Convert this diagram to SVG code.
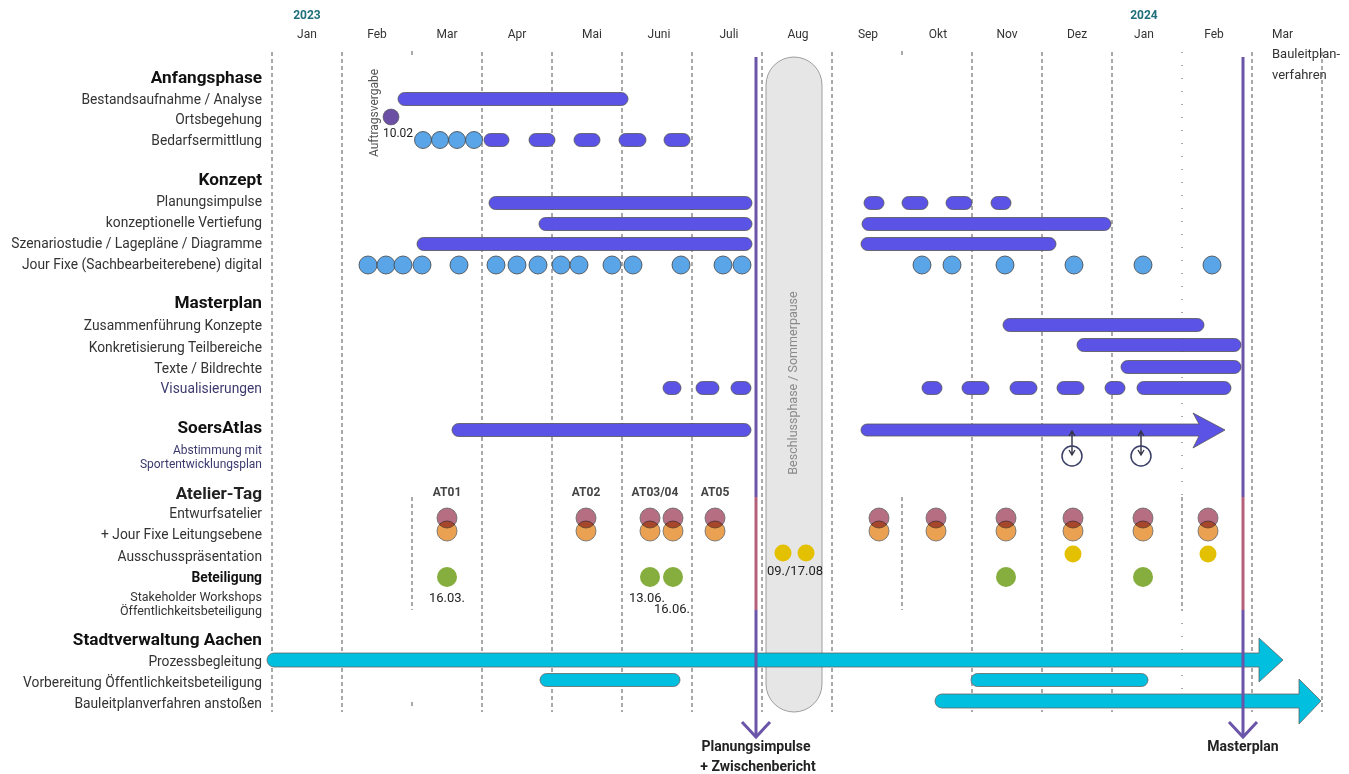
<svg xmlns="http://www.w3.org/2000/svg" width="1349" height="774" viewBox="0 0 1349 774">
<defs>
<style>
text{font-family:Roboto,"Liberation Sans",sans-serif;fill:#333}
.lab{font-size:13.8px;text-anchor:end}
.hd{font-size:17.2px;font-weight:bold;text-anchor:end;fill:#111}
.mon{font-size:12px;text-anchor:middle;fill:#333}
.yr{font-size:12px;font-weight:bold;text-anchor:middle;fill:#1f6f7a}
.grid{stroke:#555;stroke-width:1;stroke-dasharray:4 3;fill:none}
.bar{fill:#5b53e6;stroke:#555;stroke-width:0.8}
.jf{fill:#5aa5e8;stroke:#444;stroke-width:0.8}
.cy{fill:#00bfdf;stroke:#666;stroke-width:0.8}
.mr{fill:#b56e82;stroke:#666;stroke-width:0.8}
.or{fill:#eaa152;stroke:#666;stroke-width:0.8;mix-blend-mode:multiply}
.ye{fill:#e3c000}
.gr{fill:#86ae3e}
.ms{stroke:#6b55a8;stroke-width:3;fill:none}
.msr{stroke:#b5607a;stroke-width:3;fill:none}
.sm{font-size:13px;text-anchor:middle;fill:#222}
.at{font-size:12px;font-weight:bold;text-anchor:middle;fill:#444}
.mlab{font-size:14px;font-weight:bold;text-anchor:middle;fill:#222}
.tick{stroke:#334;stroke-width:1.4;fill:none}
.ring{fill:none;stroke:#3a3f66;stroke-width:1.5}
.two{font-size:12px;text-anchor:end}
</style>
</defs>

<g id="timeline">
<text class="yr" x="307" y="19">2023</text>
<text class="yr" x="1144" y="19">2024</text>
<text class="mon" x="307" y="38">Jan</text>
<text class="mon" x="377" y="38">Feb</text>
<text class="mon" x="447" y="38">Mar</text>
<text class="mon" x="517" y="38">Apr</text>
<text class="mon" x="592" y="38">Mai</text>
<text class="mon" x="659" y="38">Juni</text>
<text class="mon" x="729" y="38">Juli</text>
<text class="mon" x="798" y="38">Aug</text>
<text class="mon" x="868" y="38">Sep</text>
<text class="mon" x="938" y="38">Okt</text>
<text class="mon" x="1007" y="38">Nov</text>
<text class="mon" x="1077" y="38">Dez</text>
<text class="mon" x="1144" y="38">Jan</text>
<text class="mon" x="1214" y="38">Feb</text>
<text x="1272" y="38" style="font-size:12px">Mar</text>
<text x="1272" y="58" style="font-size:13px">Bauleitplan-</text>
<text x="1272" y="79" style="font-size:13px">verfahren</text>
</g>

<g id="grid">
<path class="grid" d="M272,52V712 M342,52V712 M482,52V712 M552,52V712 M622,52V712 M692,52V712 M762,52V712 M832,52V712 M972,52V712 M1042,52V712 M1112,52V712 M1252,52V712 M1322,52V712"/>
<path class="grid" d="M412,51V55 M412,497V610 M412,702V706 M902,51V55 M902,497V610 M1182,497V610"/>
<path class="grid" style="stroke-dasharray:1 12" d="M1182,52V497 M1182,610V712"/>
</g>

<g id="labels">
<text class="hd" x="262" y="83">Anfangsphase</text>
<text class="lab" x="262" y="104">Bestandsaufnahme / Analyse</text>
<text class="lab" x="262" y="124">Ortsbegehung</text>
<text class="lab" x="262" y="145">Bedarfsermittlung</text>
<text class="hd" x="262" y="185">Konzept</text>
<text class="lab" x="262" y="206">Planungsimpulse</text>
<text class="lab" x="262" y="227">konzeptionelle Vertiefung</text>
<text class="lab" x="262" y="248">Szenariostudie / Lagepläne / Diagramme</text>
<text class="lab" x="262" y="269">Jour Fixe (Sachbearbeiterebene) digital</text>
<text class="hd" x="262" y="308">Masterplan</text>
<text class="lab" x="262" y="330">Zusammenführung Konzepte</text>
<text class="lab" x="262" y="352">Konkretisierung Teilbereiche</text>
<text class="lab" x="262" y="373">Texte / Bildrechte</text>
<text class="lab" x="262" y="393" style="fill:#3b3a6e">Visualisierungen</text>
<text class="hd" x="262" y="433">SoersAtlas</text>
<text class="two" x="262" y="454" style="fill:#3b3a6e">Abstimmung mit</text>
<text class="two" x="262" y="468" style="fill:#3b3a6e">Sportentwicklungsplan</text>
<text class="hd" x="262" y="499" style="fill:#222">Atelier-Tag</text>
<text class="lab" x="262" y="518">Entwurfsatelier</text>
<text class="lab" x="262" y="539">+ Jour Fixe Leitungsebene</text>
<text class="lab" x="262" y="561">Ausschusspräsentation</text>
<text class="lab" x="262" y="582" style="font-weight:bold;fill:#111">Beteiligung</text>
<text class="two" x="262" y="601" style="font-size:12.5px">Stakeholder Workshops</text>
<text class="two" x="262" y="615" style="font-size:12.5px">Öffentlichkeitsbeteiligung</text>
<text class="hd" x="262" y="645">Stadtverwaltung Aachen</text>
<text class="lab" x="262" y="666">Prozessbegleitung</text>
<text class="lab" x="262" y="687">Vorbereitung Öffentlichkeitsbeteiligung</text>
<text class="lab" x="262" y="708">Bauleitplanverfahren anstoßen</text>
</g>

<g id="pause">
<rect x="766" y="57" width="56" height="655" rx="28" fill="#e6e6e6" stroke="#888" stroke-width="0.8"/>
<text transform="translate(797,383) rotate(-90)" style="font-size:12.5px;text-anchor:middle;fill:#8a8a8a">Beschlussphase / Sommerpause</text>
</g>

<g id="anfangsphase">
<rect class="bar" x="398" y="92.5" width="230" height="13" rx="6.5"/>
<circle cx="391" cy="117" r="8" fill="#6a4fa5" stroke="#555" stroke-width="0.6"/>
<text x="398" y="137" style="font-size:12px;text-anchor:middle;fill:#222">10.02</text>
<text transform="translate(378,113) rotate(-90)" style="font-size:12px;text-anchor:middle;fill:#555">Auftragsvergabe</text>
<circle class="jf" cx="423" cy="140" r="8.5"/>
<circle class="jf" cx="440" cy="140" r="8.5"/>
<circle class="jf" cx="457" cy="140" r="8.5"/>
<circle class="jf" cx="474" cy="140" r="8.5"/>
<rect class="bar" x="484" y="133.5" width="25" height="13" rx="6.5"/>
<rect class="bar" x="529" y="133.5" width="26" height="13" rx="6.5"/>
<rect class="bar" x="574" y="133.5" width="26" height="13" rx="6.5"/>
<rect class="bar" x="619" y="133.5" width="27" height="13" rx="6.5"/>
<rect class="bar" x="664" y="133.5" width="26" height="13" rx="6.5"/>
</g>

<g id="konzept">
<rect class="bar" x="489" y="196.5" width="263" height="13" rx="6.5"/>
<rect class="bar" x="864" y="196.5" width="20" height="13" rx="6.5"/>
<rect class="bar" x="902" y="196.5" width="26" height="13" rx="6.5"/>
<rect class="bar" x="946" y="196.5" width="26" height="13" rx="6.5"/>
<rect class="bar" x="991" y="196.5" width="20" height="13" rx="6.5"/>
<rect class="bar" x="539" y="217.5" width="213" height="13" rx="6.5"/>
<rect class="bar" x="862" y="217.5" width="249" height="13" rx="6.5"/>
<rect class="bar" x="417" y="237.5" width="335" height="13" rx="6.5"/>
<rect class="bar" x="861" y="237.5" width="195" height="13" rx="6.5"/>
<g>
<circle class="jf" cx="368" cy="265" r="9"/>
<circle class="jf" cx="386" cy="265" r="9"/>
<circle class="jf" cx="403" cy="265" r="9"/>
<circle class="jf" cx="422" cy="265" r="9"/>
<circle class="jf" cx="459" cy="265" r="9"/>
<circle class="jf" cx="496" cy="265" r="9"/>
<circle class="jf" cx="517" cy="265" r="9"/>
<circle class="jf" cx="538" cy="265" r="9"/>
<circle class="jf" cx="561" cy="265" r="9"/>
<circle class="jf" cx="579" cy="265" r="9"/>
<circle class="jf" cx="612" cy="265" r="9"/>
<circle class="jf" cx="633" cy="265" r="9"/>
<circle class="jf" cx="681" cy="265" r="9"/>
<circle class="jf" cx="723" cy="265" r="9"/>
<circle class="jf" cx="742" cy="265" r="9"/>
<circle class="jf" cx="922" cy="265" r="9"/>
<circle class="jf" cx="952" cy="265" r="9"/>
<circle class="jf" cx="1005" cy="265" r="9"/>
<circle class="jf" cx="1074" cy="265" r="9"/>
<circle class="jf" cx="1143" cy="265" r="9"/>
<circle class="jf" cx="1212" cy="265" r="9"/>
</g>
</g>

<g id="masterplan">
<rect class="bar" x="1003" y="318.5" width="201" height="13" rx="6.5"/>
<rect class="bar" x="1077" y="338.5" width="164" height="13" rx="6.5"/>
<rect class="bar" x="1121" y="360.5" width="120" height="13" rx="6.5"/>
<rect class="bar" x="663" y="381.5" width="18" height="13" rx="6.5"/>
<rect class="bar" x="696" y="381.5" width="23" height="13" rx="6.5"/>
<rect class="bar" x="731" y="381.5" width="20" height="13" rx="6.5"/>
<rect class="bar" x="922" y="381.5" width="20" height="13" rx="6.5"/>
<rect class="bar" x="962" y="381.5" width="27" height="13" rx="6.5"/>
<rect class="bar" x="1010" y="381.5" width="27" height="13" rx="6.5"/>
<rect class="bar" x="1057" y="381.5" width="27" height="13" rx="6.5"/>
<rect class="bar" x="1105" y="381.5" width="20" height="13" rx="6.5"/>
<rect class="bar" x="1137" y="381.5" width="94" height="13" rx="6.5"/>
</g>

<g id="soersatlas">
<rect class="bar" x="452" y="423.5" width="299" height="13" rx="6.5"/>
<path class="bar" d="M867,424 H1199 L1193,413 L1225,430 L1193,448 L1199,436 H867 A6,6 0 0 1 867,424 Z"/>
<path class="tick" d="M1072,432V455 M1069,436 L1072,431 L1075,436 M1069,450 L1072,455 L1075,450"/>
<circle class="ring" cx="1072" cy="456" r="10"/>
<path class="tick" d="M1141,432V455 M1138,436 L1141,431 L1144,436 M1138,450 L1141,455 L1144,450"/>
<circle class="ring" cx="1141" cy="456" r="10"/>
</g>

<g id="atelier">
<text class="at" x="447" y="496">AT01</text>
<text class="at" x="586" y="496">AT02</text>
<text class="at" x="655" y="496">AT03/04</text>
<text class="at" x="715" y="496">AT05</text>
<circle class="mr" cx="447" cy="518" r="10"/><circle class="or" cx="447" cy="531" r="10"/>
<circle class="mr" cx="586" cy="518" r="10"/><circle class="or" cx="586" cy="531" r="10"/>
<circle class="mr" cx="650" cy="518" r="10"/><circle class="or" cx="650" cy="531" r="10"/>
<circle class="mr" cx="673" cy="518" r="10"/><circle class="or" cx="673" cy="531" r="10"/>
<circle class="mr" cx="715" cy="518" r="10"/><circle class="or" cx="715" cy="531" r="10"/>
<circle class="mr" cx="879" cy="518" r="10"/><circle class="or" cx="879" cy="531" r="10"/>
<circle class="mr" cx="936" cy="518" r="10"/><circle class="or" cx="936" cy="531" r="10"/>
<circle class="mr" cx="1006" cy="518" r="10"/><circle class="or" cx="1006" cy="531" r="10"/>
<circle class="mr" cx="1073" cy="518" r="10"/><circle class="or" cx="1073" cy="531" r="10"/>
<circle class="mr" cx="1143" cy="518" r="10"/><circle class="or" cx="1143" cy="531" r="10"/>
<circle class="mr" cx="1208" cy="518" r="10"/><circle class="or" cx="1208" cy="531" r="10"/>
<circle class="ye" cx="783" cy="553" r="8.5"/>
<circle class="ye" cx="806" cy="553" r="8.5"/>
<text class="sm" x="795" y="575">09./17.08</text>
<circle class="ye" cx="1073" cy="554" r="8.5"/>
<circle class="ye" cx="1208" cy="554" r="8.5"/>
</g>

<g id="beteiligung">
<circle class="gr" cx="447" cy="577" r="10"/>
<circle class="gr" cx="650" cy="577" r="10"/>
<circle class="gr" cx="673" cy="577" r="10"/>
<circle class="gr" cx="1006" cy="577" r="10"/>
<circle class="gr" cx="1143" cy="577" r="10"/>
<text class="sm" x="447" y="602">16.03.</text>
<text class="sm" x="647" y="602">13.06.</text>
<text class="sm" x="672" y="613">16.06.</text>
</g>

<g id="stadtverwaltung">
<path class="cy" d="M274,653 H1259 L1259,638 L1283,660 L1259,682 L1259,667 H274 A7,7 0 0 1 274,653 Z"/>
<rect class="cy" x="540" y="673.5" width="140" height="13" rx="6.5"/>
<rect class="cy" x="971" y="673.5" width="177" height="13" rx="6.5"/>
<path class="cy" d="M942,694 H1299 L1299,679 L1321,701 L1299,724 L1299,708 H942 A7,7 0 0 1 942,694 Z"/>
</g>

<g id="connectors">
<path class="ms" d="M756,57V497 M756,610V737"/>
<path class="msr" d="M756,497V610"/>
<path class="ms" d="M742,722 L756,737 L770,722"/>
<path class="ms" d="M1243,57V497 M1243,610V737"/>
<path class="msr" d="M1243,497V610"/>
<path class="ms" d="M1229,722 L1243,737 L1257,722"/>
</g>

<g id="milestones">
<text class="mlab" x="756" y="751">Planungsimpulse</text>
<text class="mlab" x="758" y="771">+ Zwischenbericht</text>
<text class="mlab" x="1243" y="751">Masterplan</text>
</g>
</svg>
